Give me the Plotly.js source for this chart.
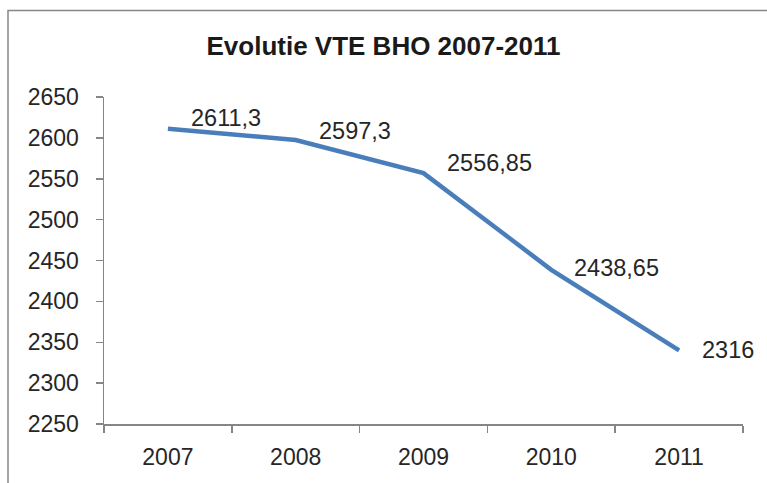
<!DOCTYPE html>
<html>
<head>
<meta charset="utf-8">
<script src="https://cdn.plot.ly/plotly-3.0.1.min.js"></script>
<style>html,body{margin:0;padding:0;background:#fff;}#chart{width:767px;height:483px;}</style>
</head>
<body>
<div id="chart"></div>
<script>
var years = ['2007', '2008', '2009', '2010', '2011'];
var values = [2611.3, 2597.3, 2556.85, 2438.65, 2340];
var labels = ['2611,3', '2597,3', '2556,85', '2438,65', '2316'];
var yTicks = [2250, 2300, 2350, 2400, 2450, 2500, 2550, 2600, 2650];

var labelYShift = [11, 9, 10, 2, 0];
var annotations = years.map(function (yr, i) {
  return {
    x: i, y: values[i], xref: 'x', yref: 'y',
    text: labels[i], showarrow: false,
    xanchor: 'left', yanchor: 'middle',
    xshift: 21, yshift: labelYShift[i],
    font: {family: 'Liberation Sans, Arial, sans-serif', size: 23.5, color: '#262626'}
  };
});

var trace = {
  x: years, y: values, type: 'scatter', mode: 'lines',
  line: {color: '#4a7ebb', width: 4.5, shape: 'linear'},
  hoverinfo: 'skip'
};

var layout = {
  width: 767, height: 483,
  margin: {l: 104, r: 24, t: 97, b: 59},
  paper_bgcolor: '#ffffff', plot_bgcolor: '#ffffff',
  showlegend: false,
  title: {
    text: '<b>Evolutie VTE BHO 2007-2011</b>',
    x: 0.5, xanchor: 'center', y: 0.905, yanchor: 'middle',
    font: {family: 'Liberation Sans, Arial, sans-serif', size: 26, color: '#1a1a1a'}
  },
  xaxis: {
    type: 'category', tickson: 'boundaries', range: [-0.5, 4.5],
    categoryorder: 'array', categoryarray: years,
    showline: true, linecolor: '#868686', linewidth: 1.5,
    ticks: 'outside', ticklen: 7, tickcolor: '#868686', tickwidth: 1.5,
    showgrid: false, zeroline: false, ticklabelstandoff: 12,
    tickfont: {family: 'Liberation Sans, Arial, sans-serif', size: 23, color: '#262626'}
  },
  yaxis: {
    range: [2250, 2650], tickvals: yTicks, ticktext: yTicks.map(String),
    showline: true, linecolor: '#868686', linewidth: 1.5,
    ticks: 'outside', ticklen: 7, tickcolor: '#868686', tickwidth: 1.5,
    showgrid: false, zeroline: false, ticklabelstandoff: 12,
    tickfont: {family: 'Liberation Sans, Arial, sans-serif', size: 23, color: '#262626'}
  },
  annotations: annotations,
  shapes: [{
    type: 'rect', xref: 'paper', yref: 'paper',
    x0: (8 - 104) / 639, x1: 1.2, y0: -0.5, y1: (424 - 10.5) / 327,
    line: {color: '#868686', width: 1.5}, fillcolor: 'rgba(0,0,0,0)', layer: 'below'
  }]
};

Plotly.newPlot('chart', [trace], layout, {staticPlot: true, displayModeBar: false});
</script>
</body>
</html>
